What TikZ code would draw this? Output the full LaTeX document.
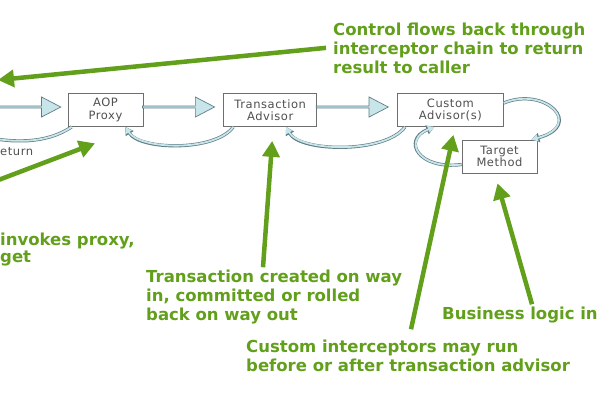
\documentclass[tikz,border=0pt]{standalone}
\usepackage{fontspec}
\setmainfont{DejaVu Sans}
\newfontfamily\boxfont[LetterSpace=5]{DejaVu Sans}
\usetikzlibrary{shapes.arrows,arrows.meta,positioning}

\definecolor{callgreen}{RGB}{98,160,28}
\definecolor{flowblue}{RGB}{200,230,234}
\definecolor{flowedge}{RGB}{95,125,135}
\definecolor{boxedge}{RGB}{110,110,110}
\definecolor{boxtext}{RGB}{80,80,80}

\begin{document}
\begin{tikzpicture}[
    x=1pt, y=-1pt,
    block/.style={rectangle, draw=boxedge, line width=0.7pt, fill=white, minimum height=33pt, inner sep=0pt, align=center, text=boxtext, font=\boxfont\fontsize{11.5}{12.5}\selectfont},
    flow/.style={single arrow, draw=flowedge, fill=flowblue, line width=0.7pt, minimum height=72pt, minimum width=20pt, single arrow head extend=3.5pt, single arrow tip angle=55, inner sep=0pt},
    ret/.style={draw=flowblue, line width=1.8pt, preaction={draw=flowedge, line width=3.2pt, -{Triangle[length=8pt, width=9pt]}}, -{Triangle[length=6.5pt, width=6.5pt]}},
    callout/.style={draw=callgreen, line width=4.5pt, -{Triangle[length=16pt, width=17pt]}},
    note/.style={anchor=base west, align=left, inner sep=0pt, text=callgreen, font=\bfseries\fontsize{16.5}{19}\selectfont}
]
\useasboundingbox[fill=white] (0,0) rectangle (600,400);
\clip (0,0) rectangle (600,400);

% Boxes
\node (proxy) [block, minimum width=75pt] at (105.5,110) {AOP\\Proxy};
\node (txadv) [block, minimum width=93pt, right=80pt of proxy] {Transaction\\Advisor};
\node (custom) [block, minimum width=106pt, right=80pt of txadv] {Custom\\Advisor(s)};
\node (target) [block, minimum width=75pt] at (499.5,156.5) {Target\\Method};
\coordinate (caller) at (-20,107);
\coordinate (callerret) at (-20,136);
\coordinate (ctrltip) at (-2,80);
\coordinate (invtail) at (-20,187);

% Notes (anchored on the last baseline)
\node (ctrl) [note] at (333,73) {Control flows back through\\interceptor chain to return\\result to caller};
\node (invk) [note, font=\bfseries\fontsize{16.5}{17}\selectfont] at (0,262) {invokes proxy,\\get};
\node (txtext) [note] at (146,320) {Transaction created on way\\in, committed or rolled\\back on way out};
\node (custint) [note] at (246,371) {Custom interceptors may run\\before or after transaction advisor};
\node (busi) [note] at (442,319) {Business logic in};
\node (rtn) [anchor=base west, inner sep=0pt, text=boxtext, font=\boxfont\fontsize{11.5}{12.5}\selectfont] at (0,155) {eturn};

% Calls in
\path (caller) -- ([yshift=3pt]proxy.west) node[flow, anchor=tip, pos=0.93] {};
\path ([yshift=3pt]proxy.east) -- ([yshift=3pt]txadv.west) node[flow, anchor=tip, pos=0.9] {};
\path ([yshift=3pt]txadv.east) -- ([yshift=3pt]custom.west) node[flow, anchor=tip, pos=0.9] {};

% Returns
\draw [ret] ([xshift=4pt]proxy.south west) .. controls (45,145) and (10,142) .. (callerret);
\draw [ret] ([xshift=10pt]txadv.south west) .. controls (215,152) and (140,150) .. ([xshift=-18pt]proxy.south east);
\draw [ret] ([xshift=8pt]custom.south west) .. controls (385,154) and (300,152) .. ([xshift=-31pt]txadv.south east);
\draw [ret] ([yshift=7pt]custom.east) .. controls (545,86) and (585,125) .. ([xshift=-6pt]target.north east);
\draw [ret] ([yshift=-8pt]target.west) .. controls (418,170) and (402,140) .. ([xshift=-16pt]custom.south);

% Callouts
\draw [callout] ([xshift=-7pt]ctrl.west) -- (ctrltip);
\draw [callout] (invtail) -- ([xshift=-10.5pt,yshift=-16.5pt]proxy.south);
\draw [callout] ([xshift=117pt,yshift=2pt]txtext.north west) -- ([xshift=2pt,yshift=-14pt]txadv.south);
\draw [callout] ([xshift=165pt,yshift=10pt]custint.north west) -- ([xshift=3pt,yshift=-8pt]custom.south);
\draw [callout] ([xshift=90pt,yshift=2pt]busi.north west) -- ([xshift=-2pt,yshift=-10pt]target.south);

\end{tikzpicture}
\end{document}
